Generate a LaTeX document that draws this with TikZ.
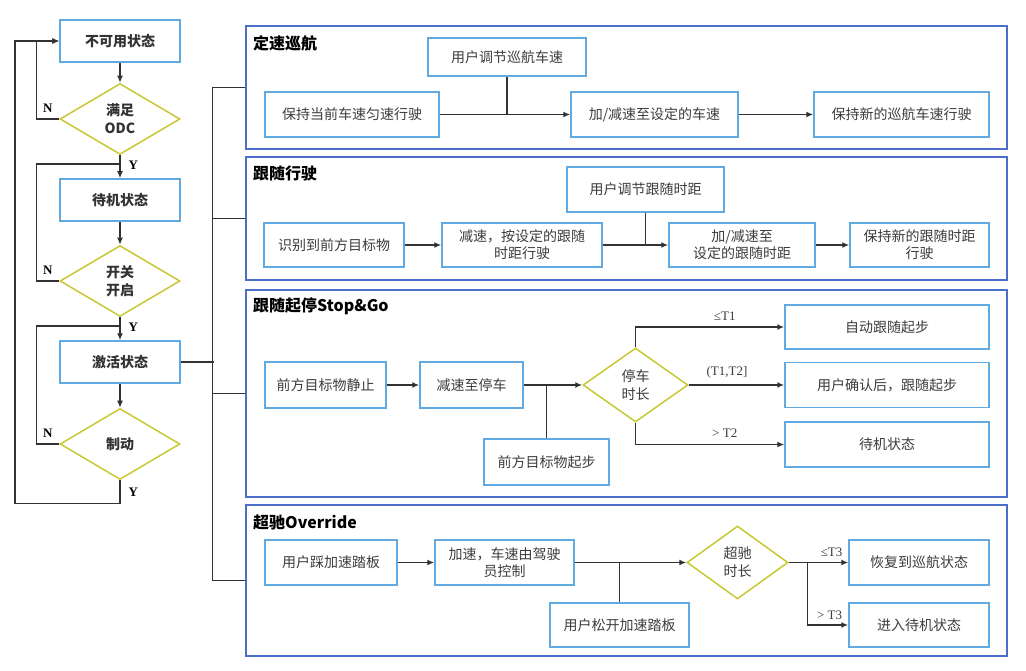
\documentclass[tikz,border=0pt]{standalone}
\usepackage{fontspec}
\newfontfamily\cjk{Noto Sans CJK SC}
\newfontfamily\lat{Liberation Serif}
\usepackage{tikz}
\usetikzlibrary{shapes.geometric,arrows.meta}
\definecolor{boxblue}{RGB}{95,170,225}
\definecolor{panelblue}{RGB}{75,110,200}
\definecolor{decyellow}{RGB}{200,200,50}
\definecolor{linegray}{RGB}{50,50,50}
\definecolor{txtgray}{RGB}{60,60,60}

\begin{document}
\begin{tikzpicture}[x=1pt,y=-1pt,
  every node/.style={font=\cjk\fontsize{14}{17}\selectfont,text=txtgray,align=center,inner sep=0pt},
  state/.style={draw=boxblue,line width=1.5pt,fill=white,minimum width=120,minimum height=42,font=\cjk\bfseries\fontsize{14}{17}\selectfont,text=black!80},
  dec/.style={diamond,draw=decyellow,line width=1.5pt,fill=white,minimum width=120,minimum height=71,font=\cjk\bfseries\fontsize{14}{18}\selectfont,text=black!80},
  decp/.style={diamond,draw=decyellow,line width=1.5pt,fill=white,font=\cjk\fontsize{14}{18}\selectfont},
  box/.style={draw=boxblue,line width=1.5pt,fill=white,minimum height=45},
  panel/.style={draw=panelblue,line width=1.4pt,minimum width=761},
  title/.style={anchor=west,font=\cjk\bfseries\fontsize{16}{19}\selectfont,text=black},
  yn/.style={font=\lat\bfseries\fontsize{13}{15}\selectfont,text=black},
  lbl/.style={font=\lat\fontsize{13}{15}\selectfont,text=txtgray},
  lin/.style={draw=linegray,line width=1.4pt},
  arr/.style={lin,-{Latex[length=7pt,width=6pt]}}]
\useasboundingbox (0,0) rectangle (1026,671);

\draw (120,41) node[state](unavail) {不可用状态};
\draw (120,119) node[dec](odc) {满足\\ODC};
\draw (120,200) node[state](standby) {待机状态};
\draw (120,281) node[dec](switch) {开关\\开启};
\draw (120,362) node[state](active) {激活状态};
\draw (120,444) node[dec](brake) {制动};
\coordinate (join1) at (120,164);
\coordinate (join2) at (120,326);

\draw (626.5,87.5) node[panel,minimum height=123](p1) {};
\draw (626.5,218.5) node[panel,minimum height=123](p2) {};
\draw (626.5,393.5) node[panel,minimum height=207](p3) {};
\draw (626.5,580.5) node[panel,minimum height=151](p4) {};

\draw (253,43) node[title] {定速巡航};
	\draw (352,114.5) node[box,minimum width=174](keep1) {保持当前车速匀速行驶};
	\draw (507,57) node[box,minimum width=158,minimum height=38](adj1) {用户调节巡航车速};
	\draw (654.5,114.5) node[box,minimum width=167](acc1) {加/减速至设定的车速};
	\draw (901.5,114.5) node[box,minimum width=175](new1) {保持新的巡航车速行驶};
\draw (253,173) node[title] {跟随行驶};
	\draw (334,245) node[box,minimum width=140,minimum height=44](detect) {识别到前方目标物};
	\draw (522,245) node[box,minimum width=160,minimum height=44](dec2) {减速，按设定的跟随\\时距行驶};
	\draw (645.5,189.5) node[box,minimum width=157](adj2) {用户调节跟随时距};
	\draw (742,245) node[box,minimum width=146,minimum height=44](acc2) {加/减速至\\设定的跟随时距};
	\draw (919.5,245) node[box,minimum width=139,minimum height=44](new2) {保持新的跟随时距\\行驶};
\draw (253,306) node[title] {跟随起停Stop\&Go};
	\draw (325.5,385) node[box,minimum width=121,minimum height=46](still) {前方目标物静止};
	\draw (471.5,385) node[box,minimum width=103,minimum height=46](stop) {减速至停车};
	\draw (546.5,462) node[box,minimum width=125,minimum height=46](go) {前方目标物起步};
	\draw (635.5,385) node[decp,minimum width=105,minimum height=74](dur) {停车\\时长};
	\draw (887,327) node[box,minimum width=204,minimum height=44](auto) {自动跟随起步};
	\draw (887,385) node[box,minimum width=204](confirm) {用户确认后，跟随起步};
	\draw (887,444.5) node[box,minimum width=204](standby3) {待机状态};
\draw (253,522) node[title] {超驰Override};
	\draw (331,562.5) node[box,minimum width=132](press) {用户踩加速踏板};
	\draw (504.5,562.5) node[box,minimum width=139](accel) {加速，车速由驾驶\\员控制};
	\draw (619.5,625) node[box,minimum width=139,minimum height=44](release) {用户松开加速踏板};
	\draw (737.5,562.5) node[decp,minimum width=101,minimum height=73](odur) {超驰\\时长};
	\draw (919,562.5) node[box,minimum width=140](resume) {恢复到巡航状态};
	\draw (919,625) node[box,minimum width=140,minimum height=44](enter) {进入待机状态};

\draw[arr] (unavail) -- (odc);
\draw[arr] (odc.south) -- node[pos=0.42,right=8pt,yn] {Y} (standby);
\draw[arr] (odc.west) -- node[above=6pt,yn] {N} ++(-23,0) |- (unavail.west);
\draw[arr] (standby) -- (switch);
\draw[lin] (switch.west) -- node[above=6pt,yn] {N} ++(-23,0) |- (join1);
\draw[arr] (switch.south) -- node[pos=0.42,right=8pt,yn] {Y} (active);
\draw[arr] (active) -- (brake);
\draw[lin] (brake.west) -- node[above=6pt,yn] {N} ++(-23,0) |- (join2);
\draw[arr] (brake.south) -- node[right=8pt,yn] {Y} ++(0,23) -- ++(-105,0) |- (unavail.west);

\draw[lin] (active.east) -- ++(33,0);
\draw[lin] (p1.west) -- ++(-33,0) |- (p4.west);
\draw[lin] (p2.west) -- ++(-33,0);
\draw[lin] (p3.west) -- ++(-33,0);

\draw[arr] (keep1) -- (acc1);
\draw[lin] (adj1) -- (adj1 |- keep1);
\draw[arr] (acc1) -- (new1);

\draw[arr] (detect) -- (dec2);
\draw[arr] (dec2) -- (acc2);
\draw[lin] (adj2) -- (adj2 |- acc2);
\draw[arr] (acc2) -- (new2);

\draw[arr] (still) -- (stop);
\draw[arr] (stop) -- (dur);
\draw[lin] (go) -- (go |- dur);
\draw[arr] (dur.north) |- node[pos=0.8,above=6pt,lbl] {≤T1} (auto);
\draw[arr] (dur) -- node[pos=0.4,above=6pt,lbl] {(T1,T2]} (confirm);
\draw[arr] (dur.south) |- node[pos=0.8,above=6pt,lbl] {> T2} (standby3);

\draw[arr] (press) -- (accel);
\draw[arr] (accel) -- (odur);
\draw[lin] (release) -- (release |- odur);
\draw[arr] (odur) -- node[pos=0.72,above=5pt,lbl] {≤T3} (resume);
\draw[arr] (odur.east) -- ++(19,0) |- node[pos=0.77,above=5pt,lbl] {> T3} (enter);
\end{tikzpicture}
\end{document}
